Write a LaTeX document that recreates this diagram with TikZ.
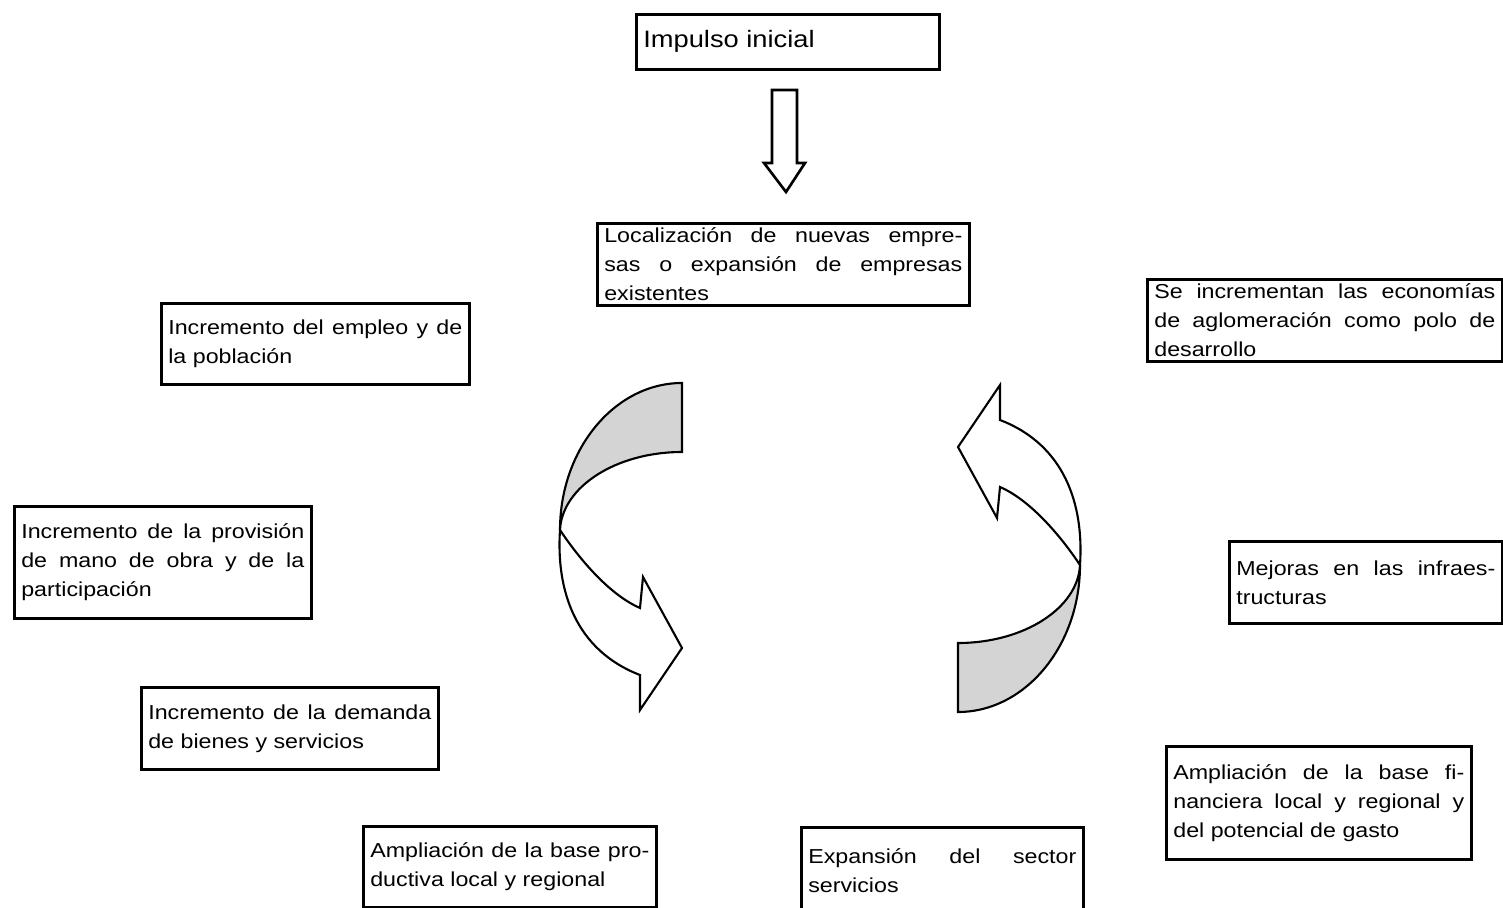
\documentclass[tikz,border=0pt]{standalone}
\usepackage{fontspec}
\setmainfont[FakeStretch=1.15]{Liberation Sans}
\usepackage{tikz}
\tikzstyle{boxStyle} = [draw=black, line width=1.5pt, fill=white, anchor=north west, inner xsep=0.14cm, inner ysep=0pt, align=justify, font=\fontsize{11.5}{16.5}\selectfont]
\tikzstyle{hollowArrow} = [draw=black, line width=1.5pt, fill=white, line join=miter]
\tikzstyle{ribbonShade} = [draw=black, line width=1.2pt, fill=black!17]
\tikzstyle{ribbonWhite} = [draw=black, line width=1.2pt, fill=white]
\newcommand{\textBox}[6]{
  \pgfmathsetmacro{\boxWidth}{#4 * 0.02}
  \pgfmathsetmacro{\boxHeight}{#5 * 0.02}
  \pgfmathsetmacro{\textWidth}{(#4 - 14) * 0.02}
  \node [boxStyle, minimum width=\boxWidth cm, minimum height=\boxHeight cm, text width=\textWidth cm] (#1) at (#2, #3) {#6};
}
\newcommand{\twistArrow}[3]{
  \begin{scope}[shift={(#1, #2)}, rotate=#3]
    \filldraw [ribbonShade] (62,-163) .. controls (-5,-163) and (-60,-97) .. (-60,-16)
      .. controls (-58,-59) and (-4,-94) .. (62,-94) -- cycle;
    \filldraw [ribbonWhite] (-60,-16) .. controls (-64,44) and (-45,104) .. (20,129)
      -- (20,164) -- (62,102) -- (23,31) -- (20,62)
      .. controls (-10,49) and (-40,14) .. (-60,-16) -- cycle;
  \end{scope}
}

\begin{document}
\begin{tikzpicture}[x = 0.02cm, y = -0.02cm]
  \useasboundingbox (0,0) rectangle (1503,908);

  \textBox{impulso}{635}{13}{303}{55}{\fontsize{13.5}{16}\selectfont Impulso inicial}
  \draw [hollowArrow] (772,90) -- (797,90) -- (797,163) -- (805,163) -- (786,192)
    -- (764,163) -- (772,163) -- cycle;
  \textBox{localizacion}{596}{222}{372}{82}{Localización de nuevas empre-\linebreak sas o expansión de empresas\linebreak existentes}

  \textBox{empleo}{160}{302}{308}{81}{Incremento del empleo y de\linebreak la población}
  \textBox{provision}{13}{505}{297}{112}{Incremento de la provisión\linebreak de mano de obra y de la\linebreak participación}
  \textBox{demanda}{140}{686}{297}{82}{Incremento de la demanda\linebreak de bienes y servicios}
  \textBox{productiva}{362}{825}{293}{81}{Ampliación de la base pro-\linebreak ductiva local y regional}
  \textBox{servicios}{800}{826}{282}{86}{Expansión del sector\linebreak servicios}
  \textBox{financiera}{1165}{745}{305}{113}{Ampliación de la base fi-\linebreak nanciera local y regional y\linebreak del potencial de gasto}
  \textBox{infraestructuras}{1228}{540}{273}{82}{Mejoras en las infraes-\linebreak tructuras}
  \textBox{aglomeracion}{1146}{278}{355}{82}{Se incrementan las economías\linebreak de aglomeración como polo de\linebreak desarrollo}

  % ciclo
  \twistArrow{620}{546}{0}
  \twistArrow{1020}{549}{180}
\end{tikzpicture}
\end{document}
